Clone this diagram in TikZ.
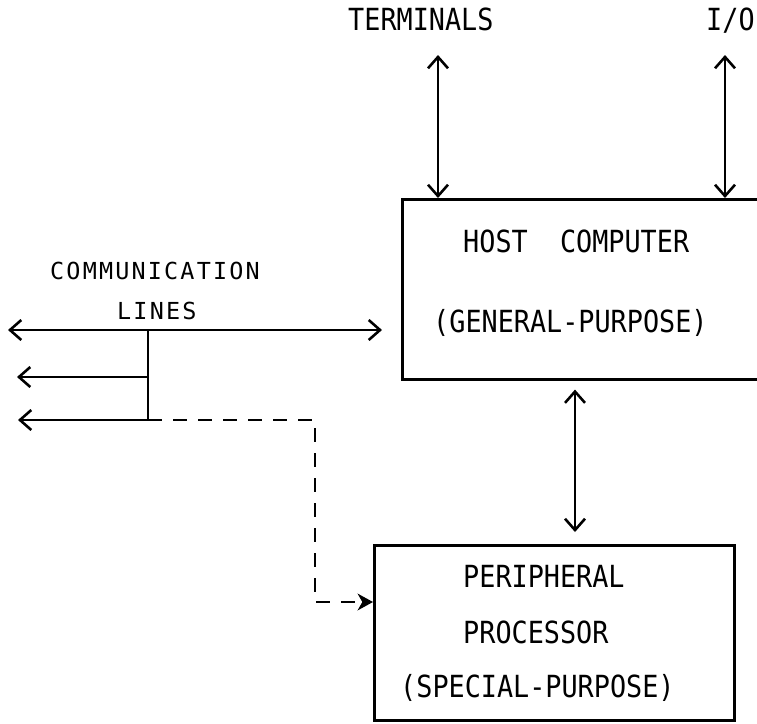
\documentclass[tikz,border=0pt]{standalone}
\usepackage{fontspec}
\newfontfamily\typefont[FakeStretch=0.88]{DejaVu Sans Mono}
\newfontfamily\commfont[LetterSpace=9.3]{DejaVu Sans Mono}
\usetikzlibrary{arrows.meta}

\begin{document}
\begin{tikzpicture}[x=0.03cm, y=-0.03cm, >={Straight Barb[length=3.4mm,width=6mm]},
  box/.style={draw, rectangle, line width=2.2pt, inner sep=0, anchor=north west},
  lbl/.style={anchor=base west, inner sep=0, font=\typefont\fontsize{26}{30}\selectfont},
  clbl/.style={anchor=base west, inner sep=0, font=\commfont\fontsize{20}{24}\selectfont},
  link/.style={line width=2.2pt}]
\useasboundingbox (0,0) rectangle (757,723);
\clip (0,0) rectangle (757,723);

% the two boxes
\node[box, minimum width=11.97cm, minimum height=5.4cm] (host) at (401,198) {};
\node[box, minimum width=10.8cm, minimum height=5.25cm] (periph) at (373,544) {};

% texts
\node[lbl] (term) at (348,30) {TERMINALS};
\node[lbl] (io) at (706,30) {I/O};
\node[lbl] (host1) at (463,252) {HOST\ \ COMPUTER};
\node[lbl] (host2) at (433,332) {(GENERAL-PURPOSE)};
\node[lbl] (per1) at (463,587) {PERIPHERAL};
\node[lbl] (per2) at (463,643) {PROCESSOR};
\node[lbl] (per3) at (400,697) {(SPECIAL-PURPOSE)};
\node[clbl] (comm1) at (50,279) {COMMUNICATION};
\node[clbl] (comm2) at (117,319) {LINES};

% points for the lines
\coordinate (tt) at (438,55);
\coordinate (it) at (725,55);
\coordinate (hp) at (575,0);
\coordinate (jtop) at (148,330);
\coordinate (jbot) at (148,420);
\coordinate (cl1) at (8,330);
\coordinate (cl2) at (17,377);
\coordinate (cl3) at (18,420);
\coordinate (dd) at (315,420);

% terminals and i/o
\draw[link, <->] (tt) -- (tt |- host.north);
\draw[link, <->] (it) -- (it |- host.north);

% host <-> peripheral
\draw[link, <->, shorten <=0.27cm, shorten >=0.36cm] (hp |- host.south) -- (hp |- periph.north);

% communication lines
\draw[link, <->, shorten >=0.57cm] (cl1) -- (cl1 -| host.west);
\draw[link] (jtop) -- (jbot);
\draw[link, ->] (cl2 -| jtop) -- (cl2);
\draw[link, ->] (jbot) -- (cl3);
\draw[link, dashed, dash pattern=on 0.42cm off 0.33cm, -{Stealth[length=4.6mm,width=5mm,inset=1.4mm]}]
  (jbot) -- (dd) -- (315,602) -- (periph.west |- 0,602);
\end{tikzpicture}
\end{document}
